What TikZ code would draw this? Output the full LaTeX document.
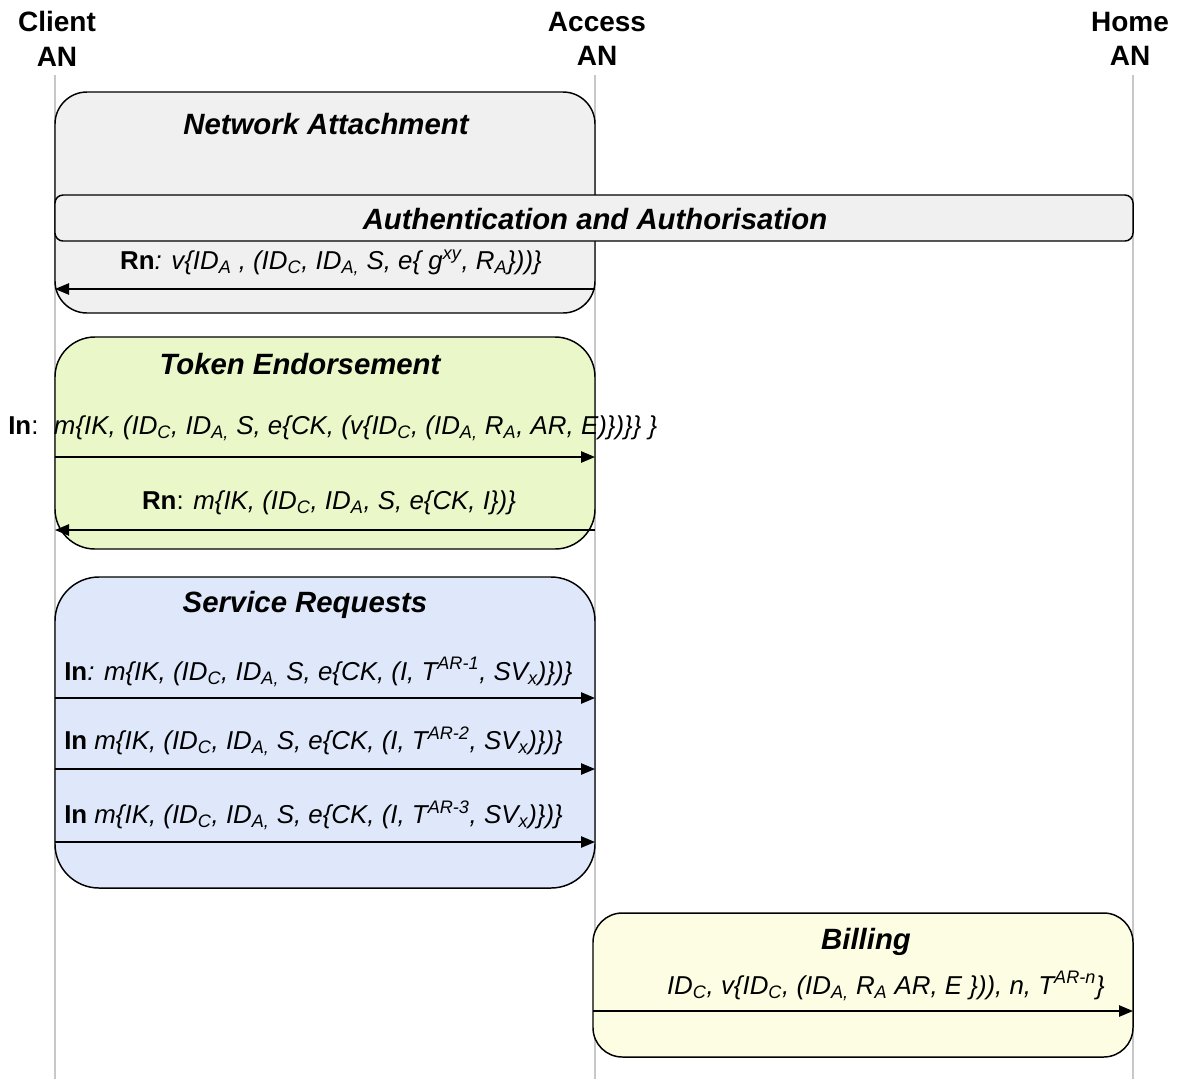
\documentclass[tikz,border=0pt]{standalone}
\usepackage{fontspec}
\setmainfont{Liberation Sans}
\usetikzlibrary{arrows.meta}
\newcommand\pxu{0.75pt}
\newcommand\sbs[1]{\textsubscript{#1}}
\newcommand\sps[1]{\textsuperscript{#1}}
\definecolor{grayfill}{RGB}{240,240,240}
\definecolor{greenfill}{RGB}{234,247,200}
\definecolor{bluefill}{RGB}{222,232,250}
\definecolor{yellowfill}{RGB}{253,253,228}
\definecolor{lifegray}{RGB}{200,200,200}
\begin{document}
\begin{tikzpicture}[x=0.75pt,y=-0.75pt,
  lifeline/.style={draw=lifegray, line width=1.2pt},
  header/.style={font=\bfseries\fontsize{21}{26}\selectfont, align=center, inner sep=0pt},
  phase/.style={draw=black, line width=1.1pt, inner sep=0pt},
  title/.style={font=\bfseries\itshape\fontsize{22}{26}\selectfont, inner sep=0pt},
  msg/.style={font=\itshape\fontsize{19.4}{24}\selectfont, inner sep=0pt},
  msgarrow/.style={draw=black, line width=1.1pt, -{Triangle[length=10.5pt,width=8.5pt]}}]

\useasboundingbox (0,0) rectangle (1177,1079);

% headers
\node[header] (cl) at (57,39) {Client\\AN};
\node[header] (ac) at (597,39) {Access\\AN};
\node[header] (hm) at (1130,39) {Home\\AN};

% lifelines
\coordinate (clt) at (55,75);   \coordinate (clb) at (55,1079);
\coordinate (act) at (595,75);  \coordinate (acb) at (595,1079);
\coordinate (hmt) at (1133,75); \coordinate (hmb) at (1133,1079);
\draw[lifeline] (clt) -- (clb);
\draw[lifeline] (act) -- (acb);
\draw[lifeline] (hmt) -- (hmb);

% phase boxes
\node[phase, fill=grayfill, rounded corners=24pt, minimum width=540*\pxu, minimum height=221*\pxu] (na) at (325,202.5) {};
\node[phase, fill=grayfill, rounded corners=6pt, minimum width=1078*\pxu, minimum height=46*\pxu] (aa) at (594,218) {};
\node[phase, fill=greenfill, rounded corners=30pt, minimum width=540*\pxu, minimum height=212*\pxu] (te) at (325,443) {};
\node[phase, fill=bluefill, rounded corners=33pt, minimum width=540*\pxu, minimum height=311*\pxu] (sr) at (325,732.5) {};
\node[phase, fill=yellowfill, rounded corners=22pt, minimum width=540*\pxu, minimum height=144*\pxu] (bi) at (863,985) {};

% titles
\node[title] (natitle) at (326,124) {Network Attachment};
\node[title] (aatitle) at (595,219) {Authentication and Authorisation};
\node[title] (tetitle) at (300,364) {Token Endorsement};
\node[title] (srtitle) at (305,605) {Service Requests};
\node[title] (bititle) at (866,942) {Billing};

% messages
\node[msg] (m1) at (331,263) {\textbf{\upshape Rn}: v\{ID\sbs{A} , (ID\sbs{C}, ID\sbs{A,} S, e\{ g\sps{xy}, R\sbs{A}\}))\}};
\coordinate (m1s) at (595,289); \coordinate (m1e) at (55,289);
\draw[msgarrow] (m1s) -- (m1e);

\node[msg, anchor=west] (m2) at (8,428) {\textbf{\upshape In}\upshape:\hspace{0.6em}\itshape m\{IK, (ID\sbs{C}, ID\sbs{A,} S, e\{CK, (v\{ID\sbs{C}, (ID\sbs{A,} R\sbs{A}, AR, E)\})\}\} \}};
\coordinate (m2s) at (55,457); \coordinate (m2e) at (595,457);
\draw[msgarrow] (m2s) -- (m2e);

\node[msg] (m3) at (329,503) {\textbf{\upshape Rn}\upshape: \itshape m\{IK, (ID\sbs{C}, ID\sbs{A}, S, e\{CK, I\})\}};
\coordinate (m3s) at (595,530); \coordinate (m3e) at (55,530);
\draw[msgarrow] (m3s) -- (m3e);

\node[msg, anchor=west] (m4) at (64,672) {\textbf{\upshape In}: m\{IK, (ID\sbs{C}, ID\sbs{A,} S, e\{CK, (I, T\sps{AR-1}, SV\sbs{x})\})\}};
\coordinate (m4s) at (55,698); \coordinate (m4e) at (595,698);
\draw[msgarrow] (m4s) -- (m4e);

\node[msg, anchor=west] (m5) at (64,741) {\textbf{\upshape In} m\{IK, (ID\sbs{C}, ID\sbs{A,} S, e\{CK, (I, T\sps{AR-2}, SV\sbs{x})\})\}};
\coordinate (m5s) at (55,769); \coordinate (m5e) at (595,769);
\draw[msgarrow] (m5s) -- (m5e);

\node[msg, anchor=west] (m6) at (64,815) {\textbf{\upshape In} m\{IK, (ID\sbs{C}, ID\sbs{A,} S, e\{CK, (I, T\sps{AR-3}, SV\sbs{x})\})\}};
\coordinate (m6s) at (55,842); \coordinate (m6e) at (595,842);
\draw[msgarrow] (m6s) -- (m6e);

\node[msg, anchor=east] (m7) at (1105,986) {ID\sbs{C}, v\{ID\sbs{C}, (ID\sbs{A,} R\sbs{A} AR, E \})), n, T\sps{AR-n}\}};
\coordinate (m7s) at (593,1011); \coordinate (m7e) at (1133,1011);
\draw[msgarrow] (m7s) -- (m7e);

\end{tikzpicture}
\end{document}
